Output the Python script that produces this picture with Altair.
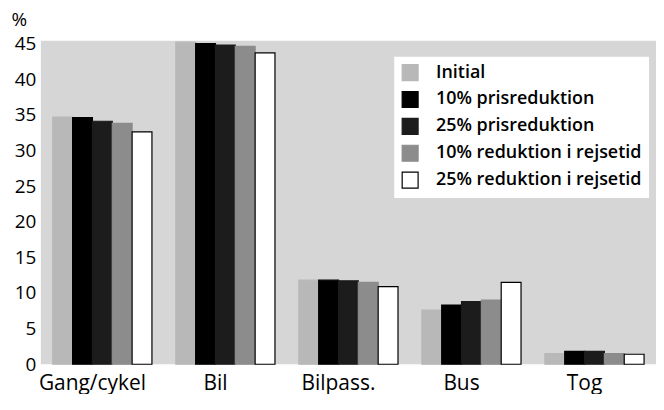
import altair as alt
import pandas as pd

categories = ["Gang/cykel", "Bil", "Bilpass.", "Bus", "Tog"]
series = ["Initial", "10% prisreduktion", "25% prisreduktion",
          "10% reduktion i rejsetid", "25% reduktion i rejsetid"]
values = {
    "Initial":                  [34.7, 45.2, 11.8, 7.6, 1.5],
    "10% prisreduktion":        [34.6, 45.0, 11.8, 8.3, 1.8],
    "25% prisreduktion":        [34.1, 44.8, 11.7, 8.8, 1.8],
    "10% reduktion i rejsetid": [33.8, 44.6, 11.5, 9.0, 1.5],
    "25% reduktion i rejsetid": [32.6, 43.7, 10.9, 11.5, 1.4],
}
fills = ["#b8b8b8", "#000000", "#1c1c1c", "#8c8c8c", "#ffffff"]
strokes = ["#b8b8b8", "#000000", "#1c1c1c", "#8c8c8c", "#000000"]

rows = []
for s in series:
    for c, v in zip(categories, values[s]):
        rows.append({"kategori": c, "serie": s, "pct": v})
df = pd.DataFrame(rows)

FONT = "Open Sans"

chart = alt.Chart(df).mark_bar(strokeWidth=1.2).encode(
    x=alt.X("kategori:N", sort=categories, title=None,
            scale=alt.Scale(paddingInner=0.194, paddingOuter=0.097),
            axis=alt.Axis(labelAngle=0, labelFontSize=21, labelFont=FONT,
                          labelFontWeight=500, labelColor="black",
                          ticks=False, domain=False, labelPadding=8,
                          labelOffset=-10)),
    xOffset=alt.XOffset("serie:N", sort=series,
                        scale=alt.Scale(paddingInner=0, paddingOuter=0)),
    y=alt.Y("pct:Q",
            scale=alt.Scale(domain=[0, 45.4], nice=False),
            axis=alt.Axis(values=list(range(0, 50, 5)), grid=False,
                          ticks=False, domain=False, labelFontSize=19,
                          labelFont=FONT, labelFontWeight=500,
                          labelColor="black", labelPadding=5,
                          title="%", titleAngle=0, titleX=-30, titleY=-30,
                          titleAlign="left", titleBaseline="top",
                          titleFontSize=19, titleFont=FONT,
                          titleFontWeight=500, titleColor="black")),
    fill=alt.Fill("serie:N", sort=series, title=None,
                  scale=alt.Scale(domain=series, range=fills),
                  legend=alt.Legend(orient="none", legendX=355, legendY=16,
                                    fillColor="white", padding=7,
                                    symbolType="square", symbolSize=256,
                                    symbolStrokeWidth=1.2,
                                    labelFontSize=18, labelFont=FONT,
                                    labelFontWeight=600, labelColor="black",
                                    labelOffset=17, rowPadding=5,
                                    labelLimit=400)),
    stroke=alt.Stroke("serie:N", sort=series, title=None,
                      scale=alt.Scale(domain=series, range=strokes)),
).properties(
    width=618, height=325, padding={"left": 3, "top": 2, "right": 0, "bottom": 0},
    background="white",
).configure_view(
    fill="#d6d6d6", stroke=None
)

chart.save("out.html", embed_options={"renderer": "svg", "actions": False})
